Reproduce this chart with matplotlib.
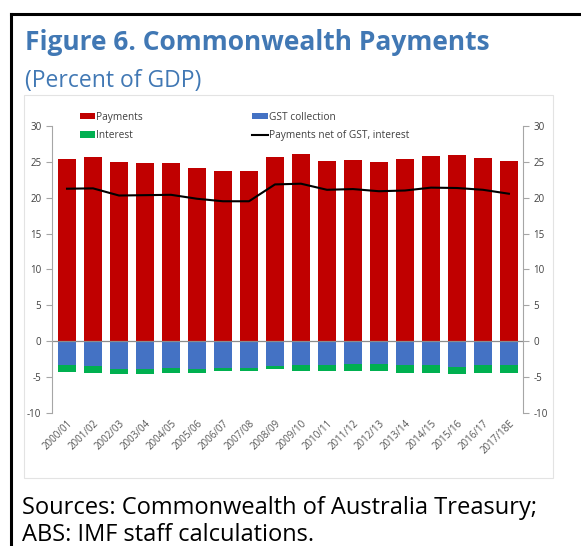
import matplotlib
matplotlib.use('Agg')
import matplotlib.pyplot as plt
from matplotlib.lines import Line2D
from matplotlib.patches import Rectangle

plt.rcParams['font.family'] = ['Open Sans', 'DejaVu Sans']
plt.rcParams['axes.unicode_minus'] = False

years = ['2000/01', '2001/02', '2002/03', '2003/04', '2004/05', '2005/06',
         '2006/07', '2007/08', '2008/09', '2009/10', '2010/11', '2011/12',
         '2012/13', '2013/14', '2014/15', '2015/16', '2016/17', '2017/18E']
payments = [25.4, 25.7, 25.0, 24.9, 24.8, 24.2, 23.7, 23.7, 25.7,
            26.1, 25.1, 25.3, 25.0, 25.4, 25.8, 25.9, 25.6, 25.1]
gst = [-3.35, -3.45, -3.85, -3.9, -3.8, -3.85, -3.75, -3.7, -3.45,
       -3.35, -3.4, -3.15, -3.15, -3.4, -3.4, -3.6, -3.4, -3.4]
interest = [-0.95, -1.0, -0.75, -0.65, -0.6, -0.55, -0.5, -0.45, -0.4,
            -0.8, -0.8, -1.0, -1.0, -1.0, -1.05, -1.05, -1.1, -1.1]
net = [21.25, 21.3, 20.3, 20.35, 20.4, 19.85, 19.5, 19.5, 21.85,
       21.95, 21.1, 21.2, 20.9, 21.0, 21.4, 21.35, 21.1, 20.55]

red = '#C00000'
blue = '#4472C4'
green = '#00B050'
title_blue = '#4178B4'
grey_txt = '#404040'
spine_grey = '#A6A6A6'

fig = plt.figure(figsize=(5.81, 5.46), dpi=100)

# outer black frame (top and left only)
fig.add_artist(Line2D([11/581, 1], [1 - 14/546, 1 - 14/546], color='black', lw=2.2))
fig.add_artist(Line2D([11/581, 11/581], [0, 1 - 14/546], color='black', lw=2.2))

# light panel around the chart
fig.add_artist(Rectangle((24/581, 1 - 478/546), (553 - 24)/581, (478 - 95)/546,
                         fill=False, edgecolor='#E3E3E3', lw=0.8))

fig.text(25/581, 1 - 50/546, 'Figure 6. Commonwealth Payments', fontsize=19,
         fontweight='bold', color=title_blue)
fig.text(25/581, 1 - 87/546, '(Percent of GDP)', fontsize=16.5, color=title_blue)
fig.text(22/581, 1 - 514/546, 'Sources: Commonwealth of Australia Treasury;',
         fontsize=17, color='black')
fig.text(22/581, 1 - 541/546, 'ABS: IMF staff calculations.',
         fontsize=17, color='black')

ax = fig.add_axes([51.7/581, 1 - 412.7/546, (522.7 - 51.7)/581, (412.7 - 126)/546])
x = list(range(len(years)))
w = 0.68
b1 = ax.bar(x, payments, width=w, color=red, label='Payments')
b2 = ax.bar(x, gst, width=w, color=blue, label='GST collection')
b3 = ax.bar(x, interest, width=w, bottom=gst, color=green, label='Interest')
l1, = ax.plot(x, net, color='black', lw=1.5, label='Payments net of GST, interest')
ax.axhline(0, color='#8C8C8C', lw=0.9)

ax.set_xlim(-0.59, 17.53)
ax.set_ylim(-10, 30)
ax.set_yticks([-10, -5, 0, 5, 10, 15, 20, 25, 30])
ax.set_xticks(x)
ax.set_xticklabels(years, rotation=45, ha='right', rotation_mode='anchor',
                   fontsize=7, color='#555555')
ax.tick_params(axis='x', length=0, pad=4)
ax.tick_params(axis='y', which='both', direction='out', length=4, width=0.8,
               color=spine_grey, labelsize=7, labelcolor=grey_txt,
               left=True, right=True, labelleft=True, labelright=True)
for s in ['top', 'bottom']:
    ax.spines[s].set_visible(False)
for s in ['left', 'right']:
    ax.spines[s].set_color(spine_grey)
    ax.spines[s].set_linewidth(0.8)

leg = ax.legend(handles=[b1, b3, b2, l1], ncol=2, loc='upper left',
                bbox_to_anchor=(0.06, 1.05), frameon=False, fontsize=7.3,
                handlelength=1.5, handleheight=0.6, handletextpad=0.1,
                columnspacing=10.8, labelspacing=0.75, borderaxespad=0,
                borderpad=0)
for t in leg.get_texts():
    t.set_color(grey_txt)

fig.savefig('out.png', dpi=100)
